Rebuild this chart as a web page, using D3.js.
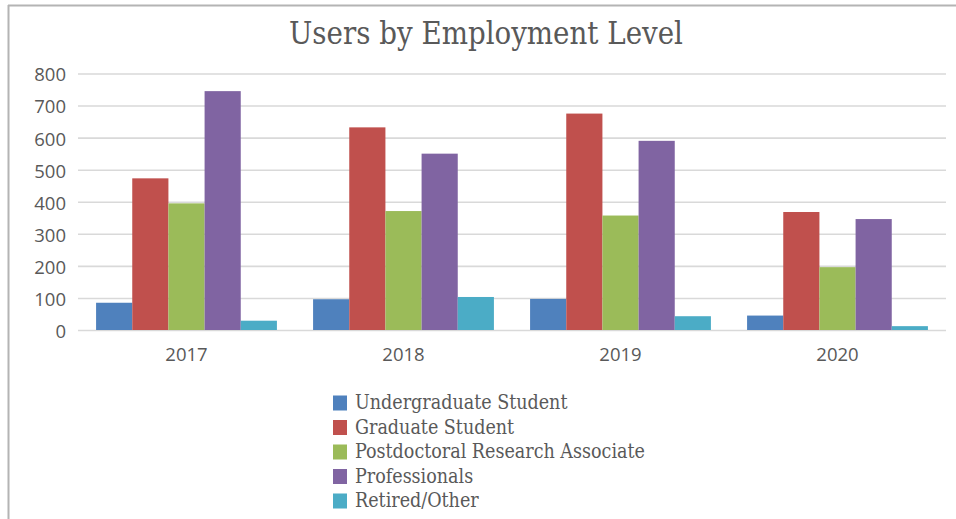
<!DOCTYPE html>
<html><head><meta charset="utf-8">
<script src="https://cdn.jsdelivr.net/npm/d3@7"></script>
<style>body{margin:0;background:#fff}svg{display:block}</style>
</head><body>
<svg id="chart" width="956" height="519"></svg>
<script>
const title = "Users by Employment Level";
const years = ["2017", "2018", "2019", "2020"];
const seriesNames = ["Undergraduate Student", "Graduate Student", "Postdoctoral Research Associate", "Professionals", "Retired/Other"];
const undergraduate = [85, 96, 97, 45];
const graduate = [473, 632, 675, 368];
const postdoc = [395, 371, 357, 196];
const professionals = [745, 550, 590, 346];
const retired = [29, 103, 43, 12];
const yTicks = [0, 100, 200, 300, 400, 500, 600, 700, 800];
const colors = ["#4F81BD", "#C0504D", "#9BBB59", "#8064A2", "#4BACC6"];

const seriesValues = [undergraduate, graduate, postdoc, professionals, retired];
const svg = d3.select("#chart");
const serif = "'DejaVu Serif Condensed', 'DejaVu Serif', serif";
const sans = "'Open Sans', 'Noto Sans', sans-serif";
const textColor = "#595959";

// frame
svg.append("line").attr("x1", 8).attr("x2", 956).attr("y1", 5.5).attr("y2", 5.5).attr("stroke", "#B4B4B4").attr("stroke-width", 2);
svg.append("line").attr("x1", 8.5).attr("x2", 8.5).attr("y1", 5).attr("y2", 519).attr("stroke", "#B4B4B4").attr("stroke-width", 2);

const x0 = d3.scaleBand().domain(years).range([78, 946]).paddingInner(1/6).paddingOuter(1/12);
const x1 = d3.scaleBand().domain(seriesNames).range([0, x0.bandwidth()]);
const y = d3.scaleLinear().domain([0, 800]).range([330, 73.5]);

function fit(sel, target) {
  const w = sel.node().getComputedTextLength();
  const fs = parseFloat(sel.attr("font-size"));
  sel.attr("font-size", fs * target / w);
}

// grid
const yAxis = d3.axisLeft(y).tickValues(yTicks).tickSize(-(946 - 78)).tickPadding(12);
const gy = svg.append("g").attr("transform", "translate(78,0)").call(yAxis);
gy.select(".domain").remove();
gy.selectAll(".tick line").attr("stroke", "#D9D9D9").attr("stroke-width", 1.6);
gy.selectAll(".tick text").attr("font-family", sans).attr("font-size", 18.5).attr("fill", textColor).attr("x", -12).attr("dy", "0.4em");

// bars
const groups = svg.append("g").selectAll("g").data(years).join("g")
  .attr("transform", d => `translate(${x0(d)},0)`);
groups.selectAll("rect").data((d, i) => seriesNames.map((s, j) => ({s, j, v: seriesValues[j][i]})))
  .join("rect")
  .attr("x", d => x1(d.s)).attr("width", x1.bandwidth())
  .attr("y", d => y(d.v)).attr("height", d => y(0) - y(d.v))
  .attr("fill", d => colors[d.j]);

// x axis
const xAxis = d3.axisBottom(x0).tickSize(0).tickPadding(18);
const gx = svg.append("g").attr("transform", "translate(0,330)").call(xAxis);
gx.select(".domain").remove();
gx.selectAll(".tick text").attr("font-family", sans).attr("font-size", 18.5).attr("fill", textColor);

// title
const t = svg.append("text").attr("x", 486).attr("y", 44).attr("text-anchor", "middle")
  .attr("font-family", serif).attr("font-size", 30).attr("fill", textColor).text(title);
fit(t, 394);

// legend
const lg = svg.append("g");
const rows = lg.selectAll("g").data(seriesNames).join("g")
  .attr("transform", (d, i) => `translate(333,${403 + i * 24.5})`);
rows.append("rect").attr("x", 0).attr("y", -7.5).attr("width", 14).attr("height", 15).attr("fill", (d, i) => colors[i]);
const lt = rows.append("text").attr("x", 22).attr("y", 6).attr("font-family", serif).attr("font-size", 18)
  .attr("fill", textColor).text(d => d);
const longest = lt.filter(d => d === "Postdoctoral Research Associate");
const w0 = longest.node().getComputedTextLength();
lt.attr("font-size", 18 * 290 / w0);
</script>
</body></html>
